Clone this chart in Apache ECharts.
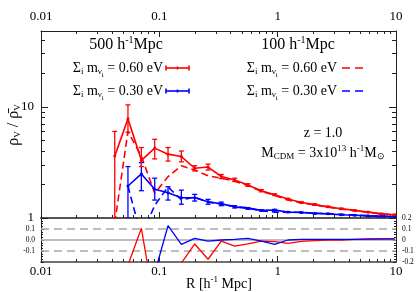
<!DOCTYPE html>
<html><head><meta charset="utf-8">
<script src="https://cdn.jsdelivr.net/npm/echarts@6/dist/echarts.min.js"></script>
<style>html,body{margin:0;padding:0;background:#fff}#c{width:417px;height:292px}</style>
</head><body><div id="c"></div>
<script>
// ---- data ----
var radii = [0.042, 0.0543, 0.0705, 0.0914, 0.1184, 0.1535, 0.199, 0.258, 0.334, 0.433, 0.561, 0.728, 0.944, 1.223, 1.585, 2.055, 2.663, 3.452, 4.475, 5.80, 7.52, 9.75];
var red500 = [3.6, 7.8, 3.3, 4.25, 3.75, 3.57, 2.8, 2.87, 2.36, 2.2, 1.98, 1.76, 1.62, 1.48, 1.38, 1.32, 1.26, 1.21, 1.17, 1.13, 1.09, 1.07];
var red500Lo = [1.0, 5.9, 2.9, 3.4, 3.25, 3.2, 2.65, 2.7, 2.26, 2.13, 1.93, 1.72, 1.59, 1.46, 1.36, 1.30, 1.245, 1.195, 1.16, 1.12, 1.08, 1.06];
var red500Hi = [6.0, 10.4, 4.3, 5.1, 4.3, 4.0, 2.95, 3.05, 2.46, 2.28, 2.03, 1.8, 1.65, 1.5, 1.40, 1.34, 1.275, 1.225, 1.18, 1.14, 1.10, 1.08];
var blue500 = [null, 1.94, 2.49, 1.81, 1.69, 1.52, 1.52, 1.40, 1.34, 1.26, 1.22, 1.17, 1.18, 1.13, 1.12, 1.10, 1.09, 1.07, 1.06, 1.045, 1.035, 1.03];
var blue500Lo = [null, 1.0, 1.76, 1.45, 1.45, 1.33, 1.42, 1.33, 1.29, 1.23, 1.20, 1.155, 1.165, 1.12, 1.11, 1.09, 1.08, 1.062, 1.052, 1.038, 1.028, 1.024];
var blue500Hi = [null, 2.9, 3.15, 2.28, 1.91, 1.78, 1.63, 1.47, 1.39, 1.29, 1.24, 1.185, 1.195, 1.14, 1.13, 1.11, 1.10, 1.078, 1.068, 1.052, 1.042, 1.036];
var red100 = [0.9, 6.0, 3.6, 1.67, 2.35, 2.95, 2.7, 2.4, 2.28, 2.14, 1.95, 1.74, 1.6, 1.45, 1.37, 1.31, 1.255, 1.205, 1.165, 1.125, 1.088, 1.068];
var blue100 = [null, 1.94, 0.68, 1.3, 1.9, 1.46, 1.54, 1.39, 1.34, 1.265, 1.235, 1.16, 1.13, 1.13, 1.125, 1.105, 1.095, 1.075, 1.065, 1.05, 1.04, 1.035];
var resRed = [-0.75, -0.23, 0.106, -0.6, -0.37, -0.21, -0.036, -0.175, -0.01, -0.055, -0.035, -0.01, -0.015, -0.03, -0.012, -0.005, 0.0, 0.0, 0.005, 0.005, 0.008, 0.01];
var resBlue = [null, null, -0.73, -0.3, 0.13, -0.04, 0.015, -0.01, 0.0, 0.005, 0.015, -0.01, -0.04, 0.0, 0.005, 0.005, 0.005, 0.005, 0.005, 0.01, 0.01, 0.01];

var xRange = [0.01, 10];
var xMajorTicks = [0.01, 0.1, 1, 10];
var xMinorTicks = [0.02,0.03,0.04,0.05,0.06,0.07,0.08,0.09,0.2,0.3,0.4,0.5,0.6,0.7,0.8,0.9,2,3,4,5,6,7,8,9];
var yRange = [1, 48];
var yMajorTicks = [1, 10];
var yMinorTicks = [2,3,4,5,6,7,8,9,20,30,40];
var resRange = [-0.2, 0.2];
var resLeftLabels = [0.1, 0, -0.1];
var resRightLabels = [0.2, 0.1, 0, -0.1, -0.2];
var resDashedLevels = [0.1, -0.1];
var resSolidLevels = [0];

// ---- helpers ----
var FF = "'Liberation Serif','Times New Roman',serif";
var RED = '#ff0000', BLUE = '#0000ff';
function pairs(vals) { var o = []; vals.forEach(function (v, i) { if (v !== null) o.push([radii[i], v]); }); return o; }
function errs(vals, lo, hi) { var o = []; vals.forEach(function (v, i) { if (v !== null) o.push([radii[i], v, lo[i], hi[i]]); }); return o; }
function errSeries(data, color) {
  return {
    type: 'custom', xAxisIndex: 0, yAxisIndex: 0, clip: true, z: 3, data: data,
    encode: { x: 0, y: [1, 2, 3] },
    renderItem: function (params, api) {
      var pl = api.coord([api.value(0), api.value(2)]);
      var ph = api.coord([api.value(0), api.value(3)]);
      var w = 2.5, st = { stroke: color, lineWidth: 1.3 };
      return { type: 'group', children: [
        { type: 'line', shape: { x1: pl[0], y1: pl[1], x2: ph[0], y2: ph[1] }, style: st },
        { type: 'line', shape: { x1: pl[0] - w, y1: pl[1], x2: pl[0] + w, y2: pl[1] }, style: st },
        { type: 'line', shape: { x1: ph[0] - w, y1: ph[1], x2: ph[0] + w, y2: ph[1] }, style: st }
      ] };
    }
  };
}
function xAx(grid, pos, ticks, len, opts) {
  var a = {
    gridIndex: grid, type: 'log', logBase: 10, min: xRange[0], max: xRange[1], position: pos,
    splitLine: { show: false },
    axisLine: { show: false, onZero: false },
    axisTick: { show: true, inside: true, length: len, customValues: ticks, lineStyle: { color: '#222', width: 1 } },
    axisLabel: { show: false }
  };
  return Object.assign(a, opts || {});
}
function yAx(grid, pos, ticks, len, opts) {
  var a = {
    gridIndex: grid, type: 'log', logBase: 10, min: yRange[0], max: yRange[1], position: pos,
    splitLine: { show: false },
    axisLine: { show: false },
    axisTick: { show: true, inside: true, length: len, customValues: ticks, lineStyle: { color: '#222', width: 1 } },
    axisLabel: { show: false }
  };
  return Object.assign(a, opts || {});
}
function fullLine(level, dashed) {
  return {
    type: 'line', xAxisIndex: 4, yAxisIndex: 4, z: 1, symbol: 'none', silent: true,
    data: [[xRange[0], level], [xRange[1], level]],
    lineStyle: { color: '#a8a8a8', width: 1.5, type: dashed ? [8, 5] : 'solid' }
  };
}
function lineSeries(xi, yi, data, color, dashed, sym) {
  return {
    type: 'line', xAxisIndex: xi, yAxisIndex: yi, data: data, z: 2,
    symbol: sym ? 'circle' : 'none', symbolSize: 3, clip: true,
    itemStyle: { color: color },
    lineStyle: { color: color, width: 1.6, type: dashed ? [7, 4] : 'solid' }
  };
}
var lblStyle = { show: true, fontFamily: FF, fontSize: 13, color: '#000' };

var series = [
  fullLine(resDashedLevels[0], true), fullLine(resDashedLevels[1], true), fullLine(resSolidLevels[0], false),
  lineSeries(0, 0, pairs(blue100), BLUE, true, false),
  lineSeries(0, 0, pairs(red100), RED, true, false),
  errSeries(errs(blue500, blue500Lo, blue500Hi), BLUE),
  lineSeries(0, 0, pairs(blue500), BLUE, false, true),
  errSeries(errs(red500, red500Lo, red500Hi), RED),
  lineSeries(0, 0, pairs(red500), RED, false, true),
  lineSeries(4, 4, pairs(resRed), RED, false, false),
  lineSeries(4, 4, pairs(resBlue), BLUE, false, false)
];
series[9].lineStyle.width = 1.3; series[10].lineStyle.width = 1.3;

var rich = {
  n: { fontFamily: FF, fontSize: 14, lineHeight: 22, color: '#000' },
  s: { fontFamily: FF, fontSize: 9, lineHeight: 9, verticalAlign: 'bottom', padding: [0, 0, 3, 0], color: '#000' },
  ss: { fontFamily: FF, fontSize: 7, lineHeight: 7, verticalAlign: 'bottom', color: '#000' },
  sup: { fontFamily: FF, fontSize: 9, lineHeight: 9, verticalAlign: 'top', padding: [2, 0, 0, 0], color: '#000' },
  big: { fontFamily: FF, fontSize: 16, lineHeight: 22, color: '#000' },
  bsup: { fontFamily: FF, fontSize: 10, lineHeight: 10, verticalAlign: 'top', padding: [1, 0, 0, 0], color: '#000' }
};
function txt(x, y, text, align, rot) {
  return { type: 'text', x: x, y: y, rotation: rot || 0, z: 10,
    style: { text: text, rich: rich, fill: '#000', font: '14px ' + FF,
      align: align, textAlign: align, verticalAlign: 'middle', textVerticalAlign: 'middle' } };
}
function seg(x1, y1, x2, y2, color, dash) {
  return { type: 'line', z: 10, shape: { x1: x1, y1: y1, x2: x2, y2: y2 },
    style: { stroke: color, lineWidth: 1.6, lineDash: dash || null } };
}
function errLegend(x1, x2, y, color) {
  var m = (x1 + x2) / 2;
  return [seg(x1, y, x2, y, color), seg(x1, y - 2.5, x1, y + 2.5, color), seg(x2, y - 2.5, x2, y + 2.5, color), seg(m, y - 1.5, m, y + 1.5, color)];
}
var legendText600 = '{n|Σ}{s|i}{n| m}{s|ν}{ss|i}{n| = 0.60 eV}';
var legendText300 = '{n|Σ}{s|i}{n| m}{s|ν}{ss|i}{n| = 0.30 eV}';
var graphics = [
  txt(126, 45, '{big|500 h}{bsup|-1}{big|Mpc}', 'center'),
  txt(298, 45, '{big|100 h}{bsup|-1}{big|Mpc}', 'center'),
  txt(163, 68, legendText600, 'right'),
  txt(163, 91, legendText300, 'right'),
  txt(337, 68, legendText600, 'right'),
  txt(337, 91, legendText300, 'right'),
  txt(323, 133, '{n|z = 1.0}', 'center'),
  txt(323, 153, '{n|M}{s|CDM}{n| = 3x10}{sup|13}{n| h}{sup|-1}{n|M}{s|⊙}', 'center'),
  txt(219, 284, '{n|R [h}{sup|-1}{n| Mpc]}', 'center'),
  txt(14, 125, '{big|ρ}{s|V}{big| / ρ̄}{s|V}', 'center', Math.PI / 2),
  seg(342, 68, 365, 68, RED, [8, 5]),
  seg(342, 91, 365, 91, BLUE, [8, 5])
].concat(errLegend(166, 189, 68, RED)).concat(errLegend(166, 189, 91, BLUE));

var frame = { show: true, onZero: false, lineStyle: { color: '#222', width: 1 } };
var option = {
  animation: false,
  backgroundColor: '#fff',
  grid: [
    { left: 41, right: 21, top: 31, height: 187 },
    { left: 41, right: 21, top: 218, height: 44 }
  ],
  xAxis: [
    xAx(0, 'bottom', xMajorTicks, 6, { axisLine: { show: true, onZero: false, lineStyle: { color: '#555', width: 2 } } }),
    xAx(0, 'bottom', xMinorTicks, 3),
    xAx(0, 'top', xMajorTicks, 6, { axisLine: frame, axisLabel: Object.assign({ customValues: xMajorTicks, margin: 8, formatter: function (v) { return String(v); } }, lblStyle) }),
    xAx(0, 'top', xMinorTicks, 3),
    xAx(1, 'bottom', xMajorTicks, 6, { axisLine: { show: true, onZero: false, lineStyle: { color: '#444', width: 1.5 } }, axisLabel: Object.assign({ customValues: xMajorTicks, margin: 3, formatter: function (v) { return String(v); } }, lblStyle) }),
    xAx(1, 'bottom', xMinorTicks, 3)
  ],
  yAxis: [
    yAx(0, 'left', yMajorTicks, 7, { axisLine: frame, axisLabel: Object.assign({ customValues: yMajorTicks, margin: 7, formatter: function (v) { return String(v); } }, lblStyle) }),
    yAx(0, 'left', yMinorTicks, 4),
    yAx(0, 'right', yMajorTicks, 7, { axisLine: frame }),
    yAx(0, 'right', yMinorTicks, 4),
    { gridIndex: 1, type: 'value', min: resRange[0], max: resRange[1], interval: 0.1, position: 'left',
      splitLine: { show: false }, axisLine: frame,
      axisTick: { show: true, inside: true, length: 3, lineStyle: { color: '#222' } },
      minorTick: { show: true, splitNumber: 4, length: 2, lineStyle: { color: '#222' } },
      axisLabel: { show: true, customValues: resLeftLabels, margin: 6, fontFamily: FF, fontSize: 7.5, color: '#000', formatter: function (v) { return v.toFixed(1); } } },
    { gridIndex: 1, type: 'value', min: resRange[0], max: resRange[1], interval: 0.1, position: 'right',
      splitLine: { show: false }, axisLine: frame,
      axisTick: { show: true, inside: true, length: 3, lineStyle: { color: '#222' } },
      minorTick: { show: true, splitNumber: 4, length: 2, lineStyle: { color: '#222' } },
      axisLabel: { show: true, customValues: resRightLabels, margin: 6, fontFamily: FF, fontSize: 7.5, color: '#000', formatter: function (v) { return Math.abs(v) < 1e-9 ? '0' : v.toFixed(1); } } }
  ],
  series: series,
  graphic: graphics
};
var chart = echarts.init(document.getElementById('c'), null, { renderer: 'canvas' });
chart.setOption(option);
</script></body></html>
